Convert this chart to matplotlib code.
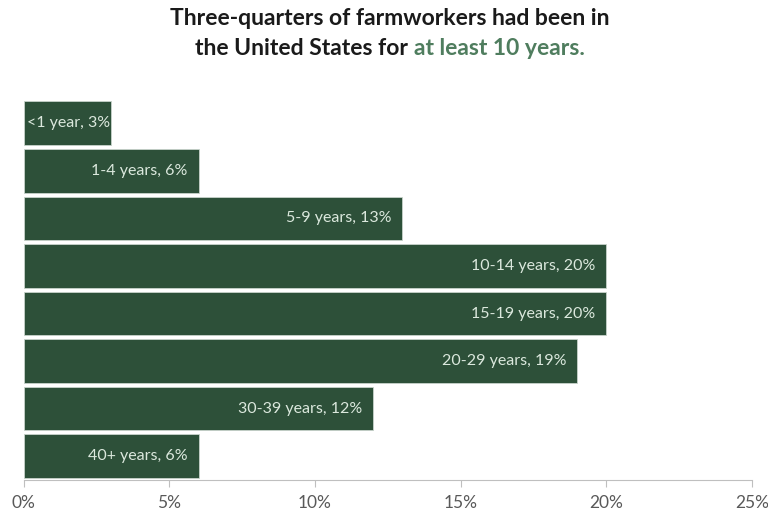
import matplotlib
matplotlib.use("Agg")
import matplotlib.pyplot as plt
from matplotlib.ticker import FuncFormatter

# 米国滞在年数のデータ
categories = ["<1 year", "1-4 years", "5-9 years", "10-14 years",
              "15-19 years", "20-29 years", "30-39 years", "40+ years"]
shares = [3, 6, 13, 20, 20, 19, 12, 6]
xticks = [0, 5, 10, 15, 20, 25]

bar_color = "#2d5039"
label_color = "#dbe8dd"
title_green = "#4f7d5e"

plt.rcParams['font.family'] = ['Lato', 'DejaVu Sans']

fig = plt.figure(figsize=(7.68, 5.16), dpi=100)
ax = fig.add_axes([0.031, 0.070, 0.948, 0.737])

ypos = list(range(len(categories)))
ax.barh(ypos, shares, height=0.92, color=bar_color, edgecolor="#c8d3cb", linewidth=0.6)
ax.set_ylim(len(categories) - 0.5, -0.5)
ax.set_xlim(0, 25)

# バー内ラベル（右寄せ）
for y, cat, v in zip(ypos, categories, shares):
    pad = 0.05 if v < 4 else 0.38
    ax.text(v - pad, y, f"{cat}, {v}%", ha="right", va="center",
            color=label_color, fontsize=11.5)

ax.set_xticks(xticks)
ax.xaxis.set_major_formatter(FuncFormatter(lambda x, p: f"{x:.0f}%"))
ax.set_yticks([])
for s in ["top", "right", "left"]:
    ax.spines[s].set_visible(False)
ax.spines["bottom"].set_color("#bfbfbf")
ax.tick_params(axis="x", colors="#bfbfbf", length=5, labelcolor="#595959",
               labelsize=12.5, pad=6)

# タイトル（2行目の一部を緑色に）
fs = 16.5
fig.text(0.508, 0.964, "Three-quarters of farmworkers had been in", ha="center",
         va="center", fontsize=fs, fontweight="bold", color="#1a1a1a")
t1 = fig.text(0.0, 0.906, "the United States for ", ha="left", va="center",
              fontsize=fs, fontweight="bold", color="#1a1a1a")
t2 = fig.text(0.0, 0.906, "at least 10 years.", ha="left", va="center",
              fontsize=fs, fontweight="bold", color=title_green)
fig.canvas.draw()
r = fig.canvas.get_renderer()
w1 = t1.get_window_extent(r).width / fig.bbox.width
w2 = t2.get_window_extent(r).width / fig.bbox.width
x0 = 0.508 - (w1 + w2) / 2
t1.set_x(x0)
t2.set_x(x0 + w1)

fig.savefig("out.png", dpi=100)
